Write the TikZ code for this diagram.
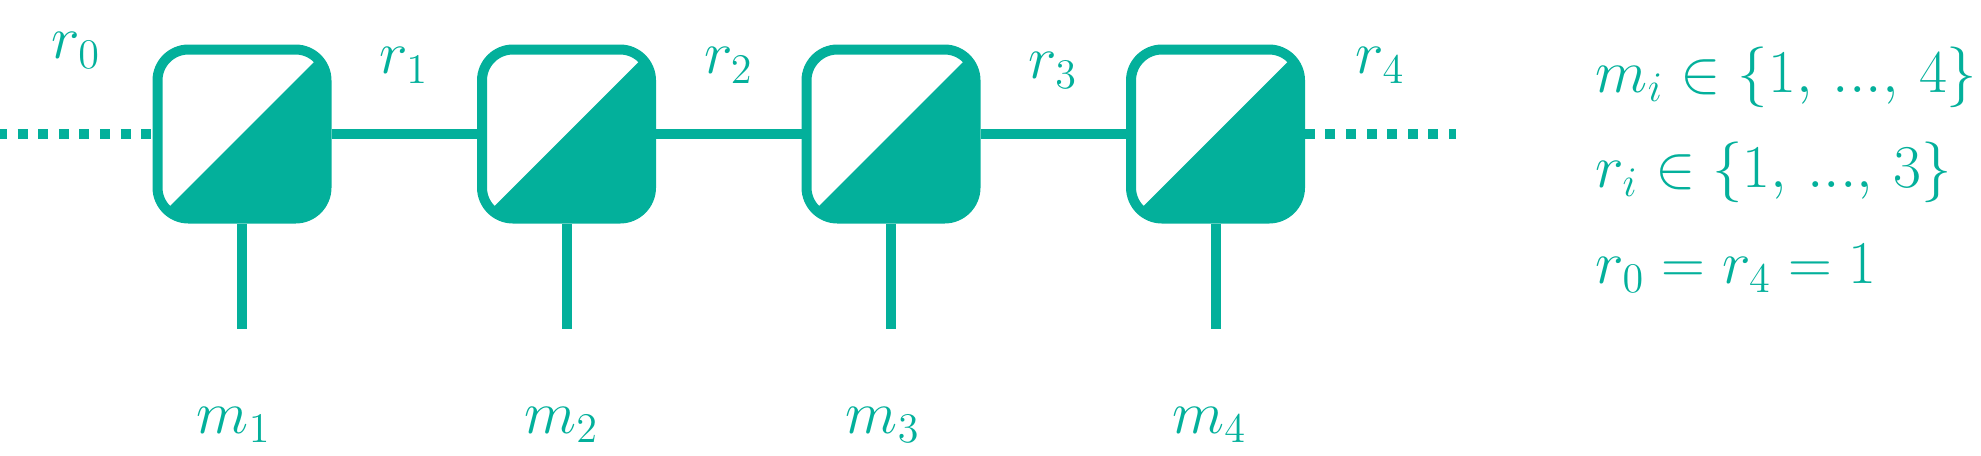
\documentclass[tikz,border=0pt]{standalone}
\usepackage{amsmath, amssymb}
\usepackage{tikz}
\usetikzlibrary{positioning}
\definecolor{ttteal}{RGB}{3,176,155}
\tikzset{
  core/.style={
    rectangle,
    rounded corners=0.31cm,
    draw=ttteal,
    line width=0.1cm,
    minimum size=1.69cm,
    inner sep=0pt,
    path picture={
      \fill[ttteal, sharp corners] (path picture bounding box.south west)
        -- (path picture bounding box.north east)
        -- (path picture bounding box.south east) -- cycle;
    }
  },
  bond/.style={
    draw=ttteal,
    line width=0.1cm
  },
  openbond/.style={
    bond,
    dash pattern=on 0.1cm off 0.106cm,
    dash phase=0.03cm
  },
  idx/.style={
    text=ttteal,
    font=\fontsize{18}{22}\selectfont,
    inner sep=0pt
  },
  rangetext/.style={
    idx,
    font=\fontsize{17.5}{22}\selectfont,
    anchor=base west
  }
}
\newcommand{\tdots}{{.}{.}{.}}

\begin{document}
\begin{tikzpicture}
    \useasboundingbox (0,0) rectangle (19.81,4.55);

    \node[core] (core1) at (2.42,3.21) {};
    \node[core, right=1.455cm of core1] (core2) {};
    \node[core, right=1.455cm of core2] (core3) {};
    \node[core, right=1.455cm of core3] (core4) {};

    \coordinate (open0) at (0,3.21);
    \coordinate (open4) at (14.56,3.21);
    \coordinate[below=1.055cm of core1] (leg1);
    \coordinate[below=1.055cm of core2] (leg2);
    \coordinate[below=1.055cm of core3] (leg3);
    \coordinate[below=1.055cm of core4] (leg4);

    % bonds between the cores
    \draw[openbond] (open0) -- node[idx, above=0.61cm] (r0lbl) {$r_0$} (core1);
    \draw[bond] (core1) -- node[idx, above=0.46cm] (r1lbl) {$r_1$} (core2);
    \draw[bond] (core2) -- node[idx, above=0.46cm] (r2lbl) {$r_2$} (core3);
    \draw[bond] (core3) -- node[idx, above=0.41cm] (r3lbl) {$r_3$} (core4);
    \draw[openbond] (open4) -- node[idx, above=0.46cm] (r4lbl) {$r_4$} (core4);

    % physical legs
    \draw[bond] (core1) -- (leg1);
    \draw[bond] (core2) -- (leg2);
    \draw[bond] (core3) -- (leg3);
    \draw[bond] (core4) -- (leg4);
    \node[idx, below=0.78cm of leg1, xshift=-0.08cm] (m1lbl) {$m_1$};
    \node[idx, below=0.78cm of leg2, xshift=-0.05cm] (m2lbl) {$m_2$};
    \node[idx, below=0.78cm of leg3, xshift=-0.08cm] (m3lbl) {$m_3$};
    \node[idx, below=0.78cm of leg4, xshift=-0.06cm] (m4lbl) {$m_4$};

    % ranges
    \node[rangetext] (mrange) at (15.95,3.63) {$m_i \in \{1,\,\tdots,\,4\}$};
    \node[rangetext] (rrange) at ([yshift=-0.95cm]mrange.base west) {$r_i \in \{1,\,\tdots,\,3\}$};
    \node[rangetext] (rbound) at ([yshift=-0.96cm]rrange.base west) {$r_0 = r_4 = 1$};
\end{tikzpicture}
\end{document}
